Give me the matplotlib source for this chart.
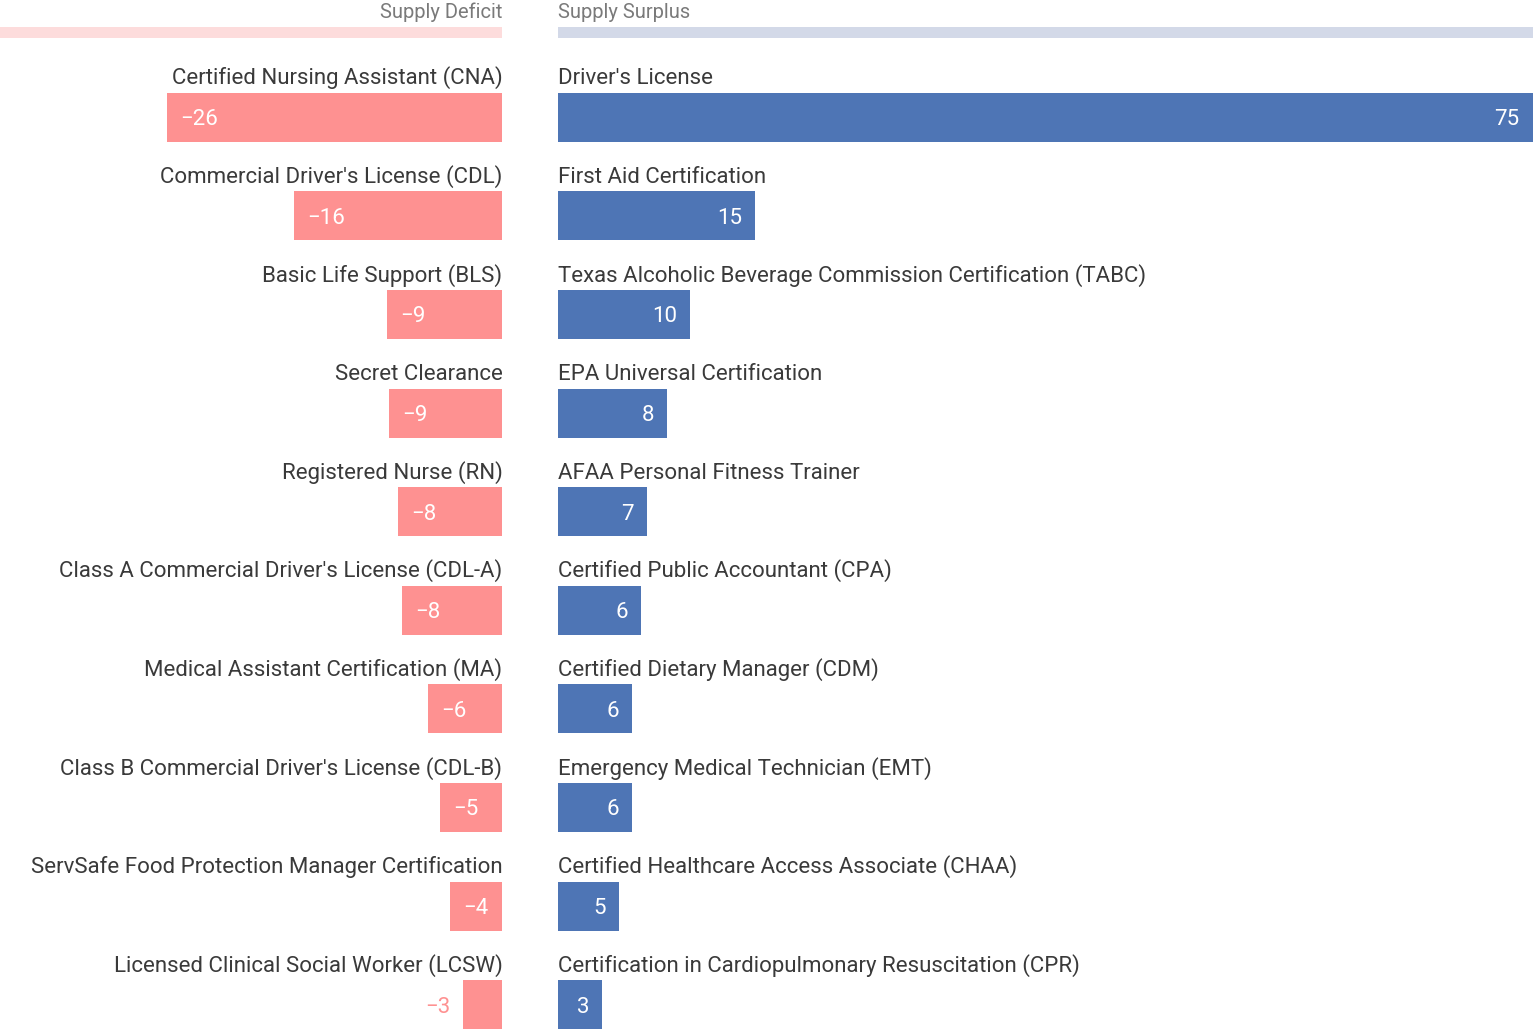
import matplotlib
matplotlib.use("Agg")
import matplotlib.pyplot as plt

plt.rcParams["font.family"] = ["Roboto", "DejaVu Sans"]

# ---------- data ----------
deficit_labels = [
    "Certified Nursing Assistant (CNA)",
    "Commercial Driver's License (CDL)",
    "Basic Life Support (BLS)",
    "Secret Clearance",
    "Registered Nurse (RN)",
    "Class A Commercial Driver's License (CDL-A)",
    "Medical Assistant Certification (MA)",
    "Class B Commercial Driver's License (CDL-B)",
    "ServSafe Food Protection Manager Certification",
    "Licensed Clinical Social Worker (LCSW)",
]
deficit_values = [-25.8, -16.0, -8.9, -8.75, -8.05, -7.7, -5.7, -4.8, -4.0, -3.0]

surplus_labels = [
    "Driver's License",
    "First Aid Certification",
    "Texas Alcoholic Beverage Commission Certification (TABC)",
    "EPA Universal Certification",
    "AFAA Personal Fitness Trainer",
    "Certified Public Accountant (CPA)",
    "Certified Dietary Manager (CDM)",
    "Emergency Medical Technician (EMT)",
    "Certified Healthcare Access Associate (CHAA)",
    "Certification in Cardiopulmonary Resuscitation (CPR)",
]
surplus_values = [75, 15.2, 10.2, 8.45, 6.9, 6.45, 5.75, 5.75, 4.75, 3.45]

# ---------- style ----------
RED = "#fe9191"
BLUE = "#4e75b5"
RED_STRIP = "#fddcdc"
BLUE_STRIP = "#d3d9e8"
TXT = "#3a3a3a"
HDR = "#7a7a7a"
FS = 16
FS_HDR = 14.5

W, H = 1534, 1033
fig = plt.figure(figsize=(W / 100, H / 100), dpi=100)

# vertical layout in row units (one row = 98.6 px)
row_px = 98.6
top_px = 117.2
ylim = ((H - top_px) / row_px, -top_px / row_px)
bar_h = 49 / row_px
lab_base = -33 / row_px
val_base = 8 / row_px
hdr_base = (17.5 - top_px) / row_px
strip_y = (32 - top_px) / row_px
strip_h = 11 / row_px
px_per_unit = 975 / 75
pad = 13 / px_per_unit


def fmt(v):
    s = "%.0f" % abs(v)
    return ("\u2212" + s) if v < 0 else s


# left panel: deficits
axL = fig.add_axes([0, 0, 502.5 / W, 1])
axL.set_xlim(-502.5 / px_per_unit, 0)
axL.set_ylim(*ylim)
axL.axis("off")
axL.barh(strip_y, axL.get_xlim()[0], height=strip_h, color=RED_STRIP)
axL.text(0, hdr_base, "Supply Deficit", ha="right", va="baseline",
         color=HDR, fontsize=FS_HDR)
for i, (lab, v) in enumerate(zip(deficit_labels, deficit_values)):
    axL.barh(i, v, height=bar_h, color=RED)
    axL.text(0, i + lab_base, lab, ha="right", va="baseline", color=TXT, fontsize=FS)
    if abs(v) >= 3.5:
        axL.text(v + pad, i + val_base, fmt(v), ha="left", va="baseline",
                 color="white", fontsize=FS)
    else:
        axL.text(v - pad, i + val_base, fmt(v), ha="right", va="baseline",
                 color=RED, fontsize=FS)

# right panel: surpluses
axR = fig.add_axes([557.5 / W, 0, 975 / W, 1])
axR.set_xlim(0, 75)
axR.set_ylim(*ylim)
axR.axis("off")
axR.barh(strip_y, 75, height=strip_h, color=BLUE_STRIP)
axR.text(0, hdr_base, "Supply Surplus", ha="left", va="baseline",
         color=HDR, fontsize=FS_HDR)
for i, (lab, v) in enumerate(zip(surplus_labels, surplus_values)):
    axR.barh(i, v, height=bar_h, color=BLUE)
    axR.text(0, i + lab_base, lab, ha="left", va="baseline", color=TXT, fontsize=FS)
    axR.text(v - pad, i + val_base, fmt(v), ha="right", va="baseline",
             color="white", fontsize=FS)

fig.savefig("out.png", dpi=100)
